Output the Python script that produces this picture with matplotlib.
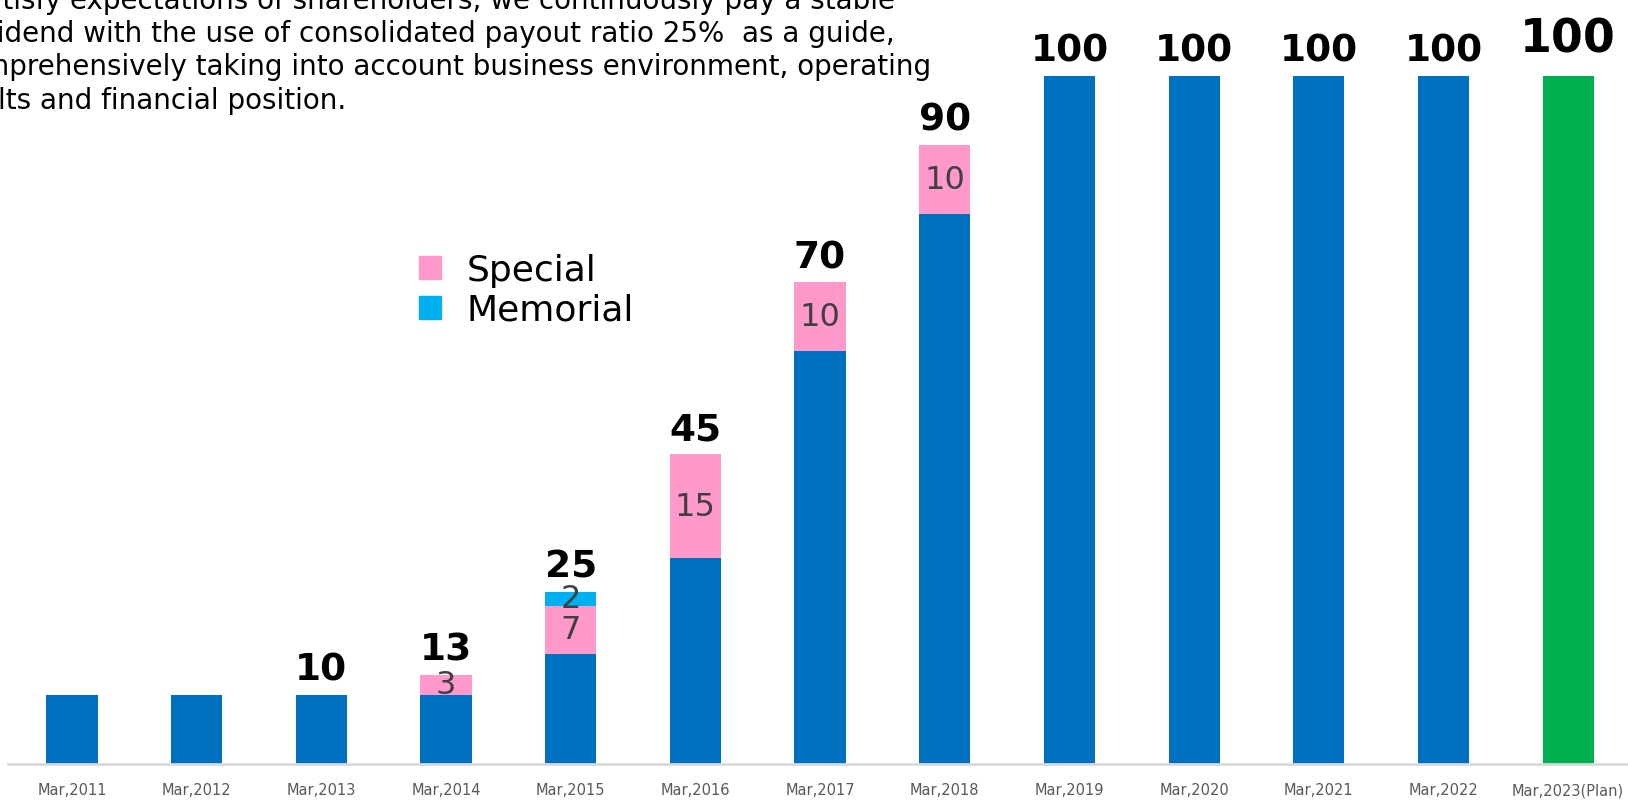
import matplotlib.pyplot as plt
from matplotlib.patches import Patch
import numpy as np

years = ["Mar,2011", "Mar,2012", "Mar,2013", "Mar,2014", "Mar,2015", "Mar,2016",
         "Mar,2017", "Mar,2018", "Mar,2019", "Mar,2020", "Mar,2021", "Mar,2022",
         "Mar,2023(Plan)"]
ordinary = [10, 10, 10, 10, 16, 30, 60, 80, 100, 100, 100, 100, 100]
special = [0, 0, 0, 3, 7, 15, 10, 10, 0, 0, 0, 0, 0]
memorial = [0, 0, 0, 0, 2, 0, 0, 0, 0, 0, 0, 0, 0]
show_total = [False, False, True, True, True, True, True, True, True, True, True, True, True]

note_lines = [
    "To satisfy expectations of shareholders, we continuously pay a stable",
    "dividend with the use of consolidated payout ratio 25%  as a guide,",
    "comprehensively taking into account business environment, operating",
    "results and financial position.",
]

BLUE = "#0070C0"
GREEN = "#00B050"
PINK = "#FF99CC"
CYAN = "#00B0F0"

W, H = 1628, 803
fig = plt.figure(figsize=(W / 100, H / 100), dpi=100)
ax = fig.add_axes([8 / W, 38 / H, 1620 / W, 765 / H])

x = np.arange(len(years))
ordinary = np.array(ordinary)
special = np.array(special)
memorial = np.array(memorial)
colors = [BLUE] * (len(years) - 1) + [GREEN]
bw = 0.41

ax.bar(x, ordinary, bw, color=colors)
ax.bar(x, special, bw, bottom=ordinary, color=PINK)
ax.bar(x, memorial, bw, bottom=ordinary + special, color=CYAN)

# labels inside stacked segments
for i in x:
    if special[i]:
        ax.text(i, ordinary[i] + special[i] / 2, str(special[i]), ha="center",
                va="center", fontsize=23, color="#404040")
    if memorial[i]:
        ax.text(i, ordinary[i] + special[i] + memorial[i] / 2, str(memorial[i]),
                ha="center", va="center", fontsize=23, color="#404040")

totals = ordinary + special + memorial
for i in x:
    if not show_total[i]:
        continue
    big = i == len(years) - 1
    ax.annotate(str(totals[i]), (i, totals[i]), xytext=(0, 18 if big else 11),
                textcoords="offset points", ha="center", va="baseline",
                fontsize=33 if big else 27, fontweight="bold", color="black")

ax.set_xlim(-0.513, 12.48)
ax.set_ylim(0, 111.2)
ax.set_xticks(x)
ax.set_xticklabels(years, fontsize=10.5, color="#595959")
ax.tick_params(axis="x", length=0, pad=13)
ax.set_yticks([])
for s in ["top", "right", "left"]:
    ax.spines[s].set_visible(False)
ax.spines["bottom"].set_color("#D9D9D9")
ax.spines["bottom"].set_linewidth(2)

handles = [Patch(color=PINK, label="Special"), Patch(color=CYAN, label="Memorial")]
ax.legend(handles=handles, loc="upper left", bbox_to_anchor=(405 / W, 1 - 240 / H),
          bbox_transform=fig.transFigure, frameon=False, fontsize=26,
          handlelength=0.6, handleheight=0.6, handletextpad=0.7, labelspacing=0.15,
          borderaxespad=0)

ends = [895, 895, 931, 346]
bases = [9, 42, 75, 109]
for line, xe, yb in zip(note_lines, ends, bases):
    fig.text(xe / W, 1 - yb / H, line, ha="right", va="baseline", fontsize=20,
             color="black")

fig.savefig("out.png", dpi=100)
